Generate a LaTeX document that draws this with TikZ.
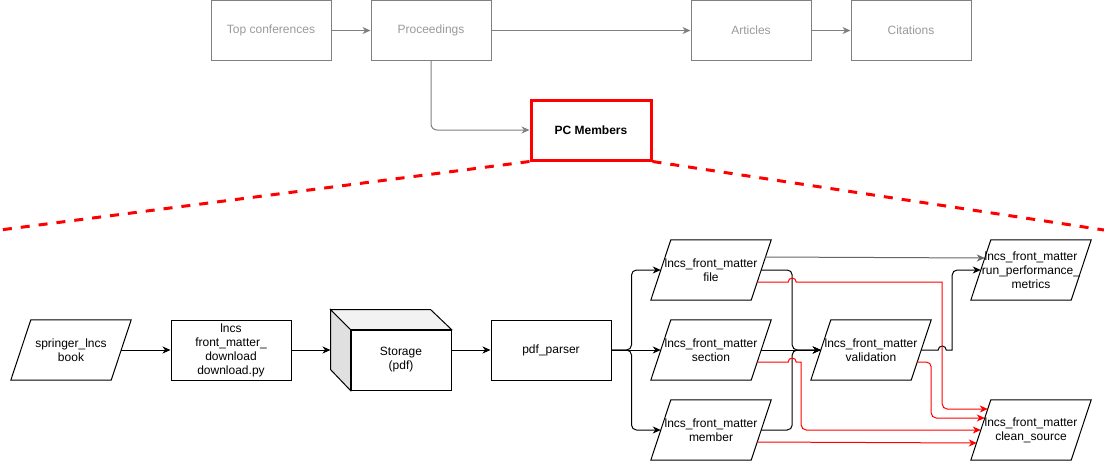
\documentclass[tikz,border=0pt]{standalone}
\usepackage{fontspec}
\setmainfont{Liberation Sans}
\usetikzlibrary{arrows.meta}

\definecolor{dimline}{HTML}{808080}
\definecolor{dimtext}{HTML}{999999}

\tikzset{
  box/.style={minimum width=120pt, minimum height=60pt, inner sep=0pt, align=center, font=\fontsize{12}{14}\selectfont},
  plainbox/.style={box, draw, line width=1pt},
  dimbox/.style={box, draw=dimline, text=dimtext, line width=1pt},
  parabox/.style={box},
  flow/.style={line width=1pt, -{Stealth[length=8pt,width=7pt,inset=2.5pt]}},
}

\begin{document}
\begin{tikzpicture}[x=1pt, y=1pt]
  \useasboundingbox (0,0) rectangle (1104,-461);

  \node[dimbox] (conf) at (271,-30.5) {Top conferences};
  \node[dimbox] (proc) at (431,-30.5) {Proceedings};
  \node[dimbox] (art) at (751,-30.5) {Articles};
  \node[dimbox] (cit) at (911,-30.5) {Citations};
  \node[box, draw=red, line width=3pt, font=\fontsize{12}{14}\selectfont\bfseries] (pc) at (591,-130) {PC Members};

  \draw[flow, dimline] (conf) -- (proc);
  \draw[flow, dimline] (proc) -- (art);
  \draw[flow, dimline] (art) -- (cit);
  \draw[flow, dimline, rounded corners=6pt] (proc) |- (pc);

  \coordinate (cutl) at (0,-230);
  \coordinate (cutr) at (1104,-230);
  \draw[red, line width=3pt, dash pattern=on 9pt off 9pt] (pc.south west) -- (cutl);
  \draw[red, line width=3pt, dash pattern=on 9pt off 9pt] (pc.south east) -- (cutr);

  \node[parabox] (book) at (71,-350) {springer\_lncs\\book};
  \node[plainbox] (down) at (231,-350) {lncs\\front\_matter\_\\download\\download.py};
  \node[plainbox, minimum width=100pt] (store) at (401,-360) {Storage\\(pdf)};
  \node[plainbox] (parser) at (551,-350) {pdf\_parser};
  \node[parabox] (file) at (711,-270) {lncs\_front\_matter\\file};
  \node[parabox] (sect) at (711,-350) {lncs\_front\_matter\\section};
  \node[parabox] (memb) at (711,-430) {lncs\_front\_matter\\member};
  \node[parabox] (valid) at (871,-350) {lncs\_front\_matter\\validation};
  \node[parabox] (perf) at (1031,-270) {lncs\_front\_matter\\run\_performance\_\\metrics};
  \node[parabox] (clean) at (1031,-430) {lncs\_front\_matter\\clean\_source};

  \foreach \n in {book,file,sect,memb,valid,perf,clean}
    \draw[line width=1pt] ([xshift=20pt]\n.north west) -- (\n.north east) -- ([xshift=-20pt]\n.south east) -- (\n.south west) -- cycle;

  \draw[line width=1pt, fill=black!12] (store.north west) -- ++(-20,20) -- ++(0,-60) -- (store.south west) -- cycle;
  \draw[line width=1pt, fill=black!5] (store.north west) -- ++(-20,20) -- ++(100,0) -- (store.north east) -- cycle;

  \draw[flow] ([xshift=-10pt]book.east) -- (down.west);
  \draw[flow] (down.east) -- ([xshift=-20pt,yshift=10pt]store.west);
  \draw[flow] ([yshift=10pt]store.east) -- (parser.west);
  \foreach \n in {file,memb}
    \draw[flow, rounded corners=5pt] (parser.east) -- ++(20,0) |- ([xshift=10pt]\n.west);
  \draw[flow] (parser.east) -- ([xshift=10pt]sect.west);
  \foreach \n in {file,memb}
    \draw[flow, rounded corners=5pt] ([xshift=-10pt]\n.east) -- ++(31,0) |- ([xshift=10pt]valid.west);
  \draw[flow] ([xshift=-10pt]sect.east) -- ([xshift=10pt]valid.west);

  \draw[flow, black!60] ([xshift=-6pt,yshift=13pt]file.east) -- ([xshift=14pt,yshift=12pt]perf.west);
  \draw[flow] ([xshift=-10pt]valid.east) -- ++(17,0) arc[start angle=180, end angle=0, radius=4pt] -- ++(6,0) [rounded corners=5pt] |- ([xshift=10pt]perf.west);

  \draw[flow, red] ([xshift=-14pt,yshift=-12pt]file.east) -- ++(31,0) arc[start angle=180, end angle=0, radius=4pt] -- ++(146,0) [rounded corners=5pt] |- ([xshift=17pt,yshift=21pt]clean.west);
  \draw[flow, red] ([xshift=-14pt,yshift=-12pt]sect.east) -- ++(31,0) arc[start angle=180, end angle=0, radius=4pt] -- ++(5,0) [rounded corners=5pt] |- ([xshift=10pt]clean.west);
  \draw[flow, red, rounded corners=5pt] ([xshift=-14pt,yshift=-12pt]valid.east) -- ++(14,0) |- ([xshift=14pt,yshift=12pt]clean.west);
  \draw[flow, red] ([xshift=-14pt,yshift=-12pt]memb.east) -- ([xshift=6pt,yshift=-13pt]clean.west);
\end{tikzpicture}
\end{document}
